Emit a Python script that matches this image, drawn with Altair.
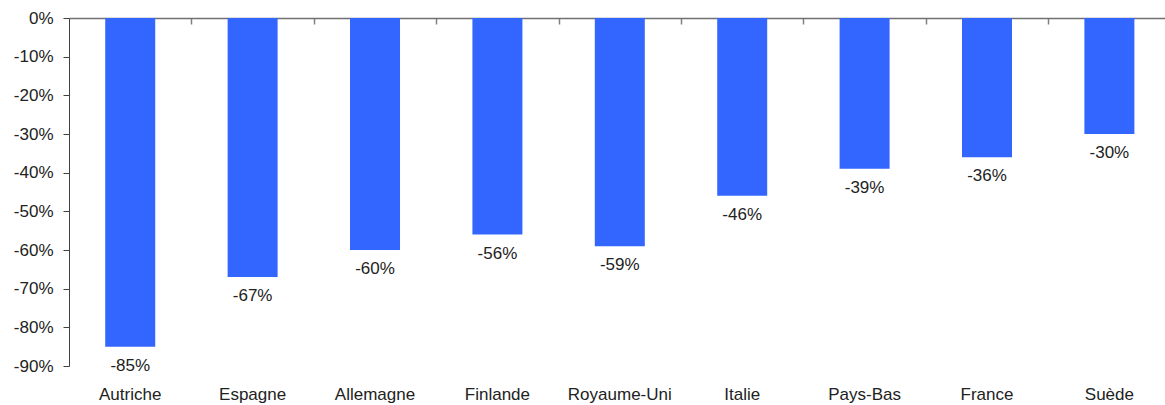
import altair as alt
import pandas as pd

# Country names and percentage change for each bar
countries = ["Autriche", "Espagne", "Allemagne", "Finlande", "Royaume-Uni",
             "Italie", "Pays-Bas", "France", "Suède"]
changes = [-85, -67, -60, -56, -59, -46, -39, -36, -30]

# y-axis tick values (percent)
y_ticks = [0, -10, -20, -30, -40, -50, -60, -70, -80, -90]

df = pd.DataFrame({"pays": countries, "variation": changes})

FONT = "Liberation Sans"
BLUE = "#3366FF"

x_scale = alt.Scale(paddingInner=0.5915, paddingOuter=0.273, align=0.542)
y_scale = alt.Scale(domain=[-90, 0], nice=False, zero=False)

y_axis = alt.Axis(
    values=y_ticks,
    labelExpr="datum.value + '%'",
    title=None,
    grid=False,
    domainColor="#404040",
    domainWidth=1,
    tickColor="#404040",
    tickSize=6,
    labelPadding=10,
    labelFont=FONT,
    labelFontSize=17,
    labelColor="#222222",
)

# Bars, with the category axis drawn along the zero line (top of plot);
# its ticks sit halfway between neighbouring bars
bars = alt.Chart(df).mark_bar(color=BLUE).encode(
    x=alt.X("pays:N", sort=countries, scale=x_scale,
            axis=alt.Axis(orient="bottom", offset=-348, labels=False, title=None,
                          ticks=True, tickOffset=61.2, tickSize=6,
                          tickColor="#808080", tickWidth=1.5,
                          domainColor="#707070", domainWidth=1.5, grid=False)),
    y=alt.Y("variation:Q", scale=y_scale, axis=y_axis),
)

# Value labels under each bar, plus the category names at the bottom
labels = alt.Chart(df).transform_calculate(
    txt="datum.variation + '%'"
).mark_text(baseline="top", align="center", dy=11, font=FONT, fontSize=17,
            color="#222222").encode(
    x=alt.X("pays:N", sort=countries, scale=x_scale,
            axis=alt.Axis(orient="bottom", domain=False, ticks=False, tickSize=0,
                          labelPadding=20, labelAngle=0, labelFont=FONT,
                          labelFontSize=17, labelColor="#222222", title=None,
                          grid=False)),
    y=alt.Y("variation:Q", scale=y_scale, axis=y_axis),
    text="txt:N",
)

chart = alt.layer(bars, labels).resolve_axis(x="independent").properties(
    width=1096,
    height=348,
    autosize=alt.AutoSizeParams(type="none"),
    padding={"left": 69, "top": 18, "right": 0, "bottom": 39},
    view=alt.ViewBackground(stroke="transparent", strokeWidth=0),
).configure(background="white")

chart.save("out.html", embed_options={"renderer": "svg", "actions": False})
